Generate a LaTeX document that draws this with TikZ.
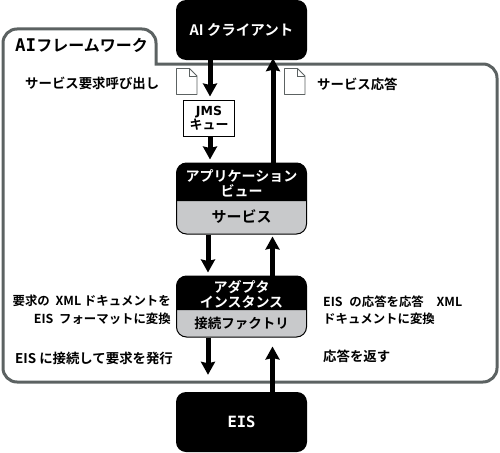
\documentclass[tikz,border=0pt]{standalone}
\usepackage{fontspec}
\setmainfont{Noto Sans CJK JP}[BoldFont={Noto Sans CJK JP Bold}]
\newfontfamily\latinmono{DejaVu Sans Mono}[BoldFont={DejaVu Sans Mono Bold}]
\newfontfamily\latinsans{DejaVu Sans}[BoldFont={DejaVu Sans Bold}]
\usepackage{tikz}
\usetikzlibrary{arrows.meta}
\definecolor{framegray}{HTML}{5C6262}
\definecolor{boxgray}{HTML}{C8C9CB}
\tikzset{
  blackbox/.style={fill=black,text=white,rounded corners=10pt,minimum width=131pt,minimum height=60pt,inner sep=0pt,font=\bfseries\fontsize{14.5}{17}\selectfont},
  splitbox/.style={draw=black,line width=1pt,fill=boxgray,rounded corners=10pt,minimum width=130pt,inner sep=0pt},
  headtext/.style={text=white,inner sep=0pt,font=\bfseries\fontsize{14}{16}\selectfont},
  subtext/.style={inner sep=0pt,font=\bfseries\fontsize{14}{16}\selectfont},
  note/.style={inner sep=0pt,font=\fontsize{13.4}{17.5}\selectfont\bfseries},
  smallnote/.style={inner sep=0pt,font=\fontsize{12.4}{17.5}\selectfont\bfseries},
  flow/.style={line width=5pt,-{Stealth[length=13pt,width=14pt,inset=1.5pt]}}
}
\begin{document}
\begin{tikzpicture}[x=1pt,y=-1pt]
  \useasboundingbox (0,0) rectangle (500,452);

  % Framework outline with its tab
  \draw [framegray,line width=3pt] (156,64) [rounded corners=14pt] -- (497,64) -- (497,382) -- (3,382) -- (3,29) -- (156,29) [sharp corners] -- cycle;
  \node (frametitle) [anchor=west,inner sep=0pt] at (15,45) {\bfseries\fontsize{16}{18}\selectfont{\latinmono\fontsize{17.5}{18}\selectfont AI}フレームワーク};

  % Client and EIS
  \node (client) [blackbox] at (241.5,30) {AI クライアント};
  \node (eis) [blackbox] at (241.5,422) {\latinmono\fontsize{15.5}{17}\selectfont EIS};

  % JMS queue
  \node (jms) [draw=black,line width=1pt,fill=white,minimum width=51pt,minimum height=36pt,inner sep=0pt,align=center,font=\bfseries\fontsize{13}{14}\selectfont] at (209,118) {{\latinsans\fontsize{12.5}{14}\selectfont JMS}\\キュー};

  % Application view: black head over gray body
  \node (view) [splitbox,minimum height=71pt] at (241.5,198.5) {};
  \fill (176.5,201) [rounded corners=10pt] -- (176.5,163) -- (306.5,163) [sharp corners] -- (306.5,201) -- cycle;
  \node (viewhead) [headtext,align=center] at (241.5,183) {アプリケーション\\[-1pt]ビュー};
  \node (viewbody) [subtext] at (241.5,217) {\fontsize{15}{16}\selectfont サービス};

  % Adapter instance: black head over gray body
  \node (adapter) [splitbox,minimum height=61pt] at (241.5,306.5) {};
  \fill (176.5,310) [rounded corners=10pt] -- (176.5,276) -- (306.5,276) [sharp corners] -- (306.5,310) -- cycle;
  \node (adapterhead) [headtext,align=center] at (241.5,294) {アダプタ\\[-1pt]インスタンス};
  \node (adapterbody) [subtext] at (241.5,323) {\fontsize{13.5}{16}\selectfont 接続ファクトリ};

  % Document icons beside the client arrows
  \foreach \dx in {176.5,284.5} {
    \draw [framegray,line width=0.8pt,fill=white,line join=round] (\dx,68.5) -- (\dx+13,68.5) -- (\dx+20.5,76) -- (\dx+20.5,94.5) -- (\dx,94.5) -- cycle;
    \draw [framegray,line width=0.8pt] (\dx+13,68.5) -- (\dx+13,76) -- (\dx+20.5,76);
  }

  % Request arrows going down
  \draw [flow,shorten >=3pt] ([xshift=1pt]jms |- client.south) -- ([xshift=1pt]jms.north);
  \draw [flow,shorten >=3pt] ([xshift=1pt]jms.south) -- ([xshift=1pt]jms |- view.north);
  \draw [flow,shorten >=3pt] ([xshift=-33.5pt]view.south) -- ([xshift=-33.5pt]adapter.north);
  \draw [flow,shorten >=17pt] ([xshift=-33.5pt]adapter.south) -- ([xshift=-33.5pt]eis.north);

  % Response arrows going up
  \draw [flow,shorten >=-2pt] ([xshift=31.5pt]view.north) -- ([xshift=31.5pt]client.south);
  \draw [flow,shorten >=2pt] ([xshift=31pt]adapter.north) -- ([xshift=31pt]view.south);
  \draw [flow,shorten >=9pt] ([xshift=31pt]eis.north) -- ([xshift=31pt]adapter.south);

  % Labels on the left
  \node (callnote) [note,anchor=west] at (25,83) {サービス要求呼び出し};
  \node (convnote) [smallnote,anchor=east,align=right] at (171,310) {要求の\hspace{3pt} XML ドキュメントを\\EIS\hspace{3pt} フォーマットに変換};
  \node (sendnote) [note,anchor=west] at (15,358) {EIS に接続して要求を発行};

  % Labels on the right
  \node (replynote) [note,anchor=west] at (317,84) {サービス応答};
  \node (backnote) [smallnote,anchor=west,align=left] at (323,310) {EIS\hspace{4pt} の応答を応答\hspace{10pt} XML\\ドキュメントに変換};
  \node (returnnote) [note,anchor=west] at (323,356) {応答を返す};
\end{tikzpicture}
\end{document}
